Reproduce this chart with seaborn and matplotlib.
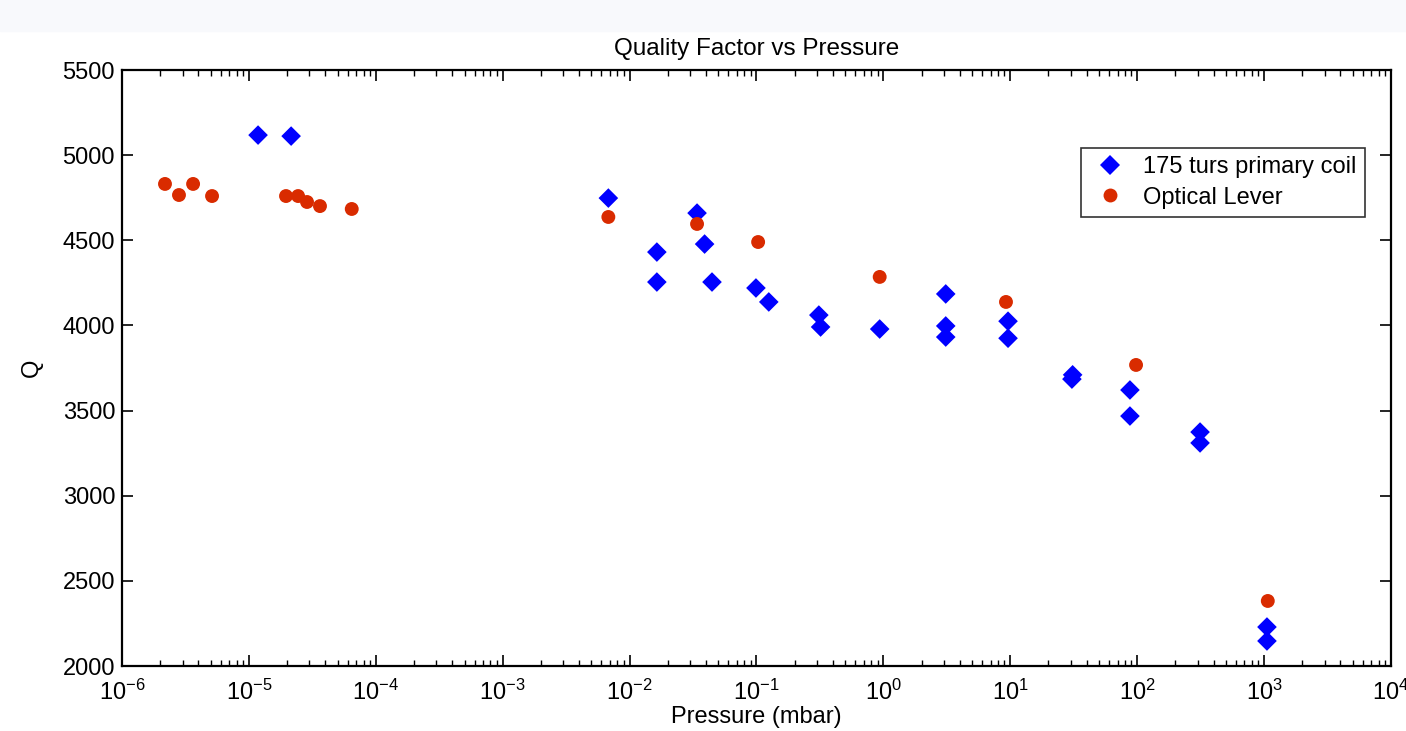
import numpy as np
import pandas as pd
import matplotlib
matplotlib.use("Agg")
import matplotlib.pyplot as plt
import seaborn as sns
from matplotlib.patches import Rectangle
from matplotlib.ticker import LogLocator, NullFormatter, FuncFormatter

# 175 turns primary coil (blue diamonds)
coil_p = [1.18e-5, 2.15e-5, 6.8e-3, 0.0164, 0.0164, 0.034, 0.039, 0.0446,
          0.099, 0.125, 0.31, 0.32, 0.935, 3.1, 3.1, 3.1, 9.6, 9.6,
          30.6, 31.0, 87.7, 87.7, 313, 313, 1054, 1054]
coil_q = [5118, 5112, 4748, 4431, 4255, 4660, 4478, 4255,
          4220, 4138, 4061, 3991, 3979, 4185, 3997, 3932, 4025, 3925,
          3685, 3710, 3621, 3468, 3374, 3310, 2229, 2147]

# optical lever (red circles)
lever_p = [2.18e-6, 2.81e-6, 3.63e-6, 5.12e-6, 1.96e-5, 2.44e-5, 2.87e-5,
           3.63e-5, 6.46e-5, 6.8e-3, 0.034, 0.103, 0.935, 9.25, 98, 1070]
lever_q = [4831, 4766, 4831, 4760, 4760, 4760, 4725,
           4701, 4684, 4637, 4596, 4490, 4285, 4138, 3768, 2382]

labels = ["175 turs primary coil", "Optical Lever"]

df = pd.DataFrame({
    "p": coil_p + lever_p,
    "q": coil_q + lever_q,
    "series": [labels[0]] * len(coil_p) + [labels[1]] * len(lever_p),
})

sns.set_style("white")
plt.rcParams["font.family"] = ["Liberation Sans", "DejaVu Sans"]
plt.rcParams["mathtext.fontset"] = "custom"
plt.rcParams["mathtext.rm"] = "Liberation Sans"
plt.rcParams["mathtext.it"] = "Liberation Sans"
plt.rcParams["mathtext.bf"] = "Liberation Sans"
for key in ["text.color", "axes.labelcolor", "xtick.color", "ytick.color"]:
    plt.rcParams[key] = "black"

fig = plt.figure(figsize=(14.06, 7.31), dpi=100)
fig.patches.append(Rectangle((0, 0.957), 1, 0.043, transform=fig.transFigure,
                             color="#f8f9fc", zorder=0))
ax = fig.add_axes([0.0868, 0.0889, 0.9025, 0.8153])

sns.scatterplot(data=df, x="p", y="q", hue="series", style="series",
                palette={labels[0]: "#0000ff", labels[1]: "#d92b00"},
                markers={labels[0]: "D", labels[1]: "o"},
                s=100, linewidth=0, ax=ax)

ax.set_xscale("log")
ax.set_xlim(1e-6, 1e4)
ax.set_ylim(2000, 5500)
ax.set_xticks([10.0 ** k for k in range(-6, 5)])
ax.xaxis.set_major_formatter(FuncFormatter(
    lambda v, pos: r"$\mathregular{10^{%d}}$" % int(round(np.log10(v)))))
ax.xaxis.set_minor_locator(LogLocator(base=10, subs=np.arange(2, 10), numticks=20))
ax.xaxis.set_minor_formatter(NullFormatter())
ax.set_yticks(np.arange(2000, 5501, 500))

ax.tick_params(axis="both", which="major", direction="in", length=8, width=1.2,
               top=True, right=True, bottom=True, left=True, labelsize=17, pad=5)
ax.tick_params(axis="x", which="major", labelsize=17, pad=10)
ax.tick_params(axis="x", which="minor", direction="in", length=4, width=1,
               top=True, bottom=True)
for s in ax.spines.values():
    s.set_linewidth(1.6)
    s.set_color("black")

ax.set_title("Quality Factor vs Pressure", fontsize=17.5, pad=11)
ax.set_xlabel("Pressure (mbar)", fontsize=17, labelpad=1)
ax.set_ylabel("Q", fontsize=17, labelpad=14)

leg = ax.legend(loc="upper right", bbox_to_anchor=(0.9795, 0.869), fontsize=17,
                frameon=True, fancybox=False, edgecolor="black",
                borderaxespad=0, borderpad=0.35, handletextpad=0.5,
                labelspacing=0.35, handlelength=1.8, markerscale=1.0)
leg.get_frame().set_linewidth(1.2)

fig.savefig("out.png", dpi=100)
